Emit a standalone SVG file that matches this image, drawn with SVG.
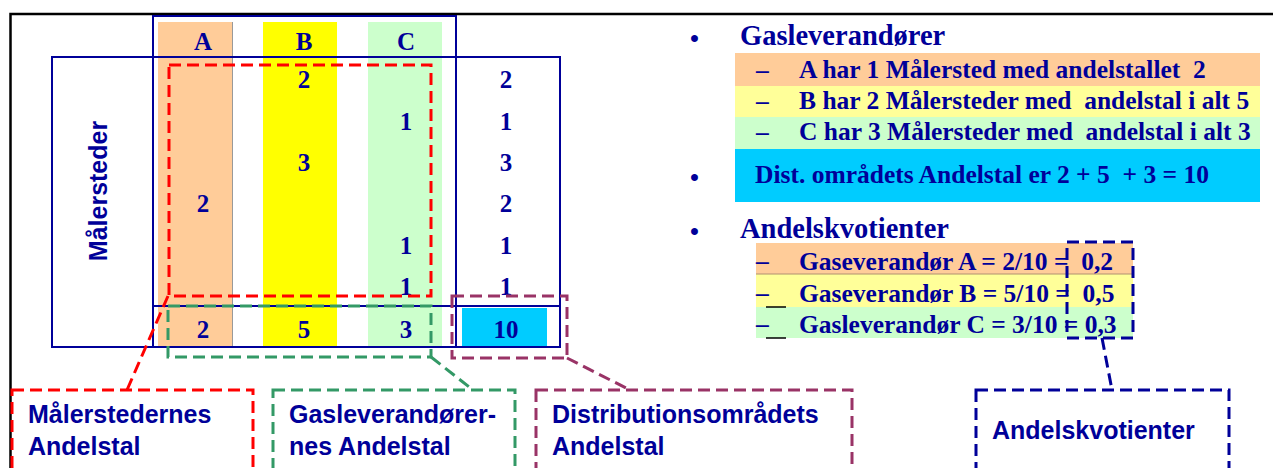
<svg xmlns="http://www.w3.org/2000/svg" width="1273" height="468" viewBox="0 0 1273 468">
<style>
.tb{font-family:"Liberation Serif","Times New Roman",serif;font-weight:bold;fill:#000099;font-size:25px;text-anchor:middle}
.tr{font-family:"Liberation Serif","Times New Roman",serif;font-weight:bold;fill:#000099;font-size:25.5px;white-space:pre}
.th{font-family:"Liberation Serif","Times New Roman",serif;font-weight:bold;fill:#000099;font-size:28.5px}
.ta{font-family:"Liberation Sans",Arial,sans-serif;font-weight:bold;fill:#000099;font-size:25px}
.nv{fill:none;stroke:#000099;stroke-width:2}
.d{fill:none;stroke-width:3;stroke-dasharray:12 6}
.red{stroke:#FF0000}.grn{stroke:#339966}.pur{stroke:#993366}.blu{stroke:#000099}
</style>
<rect width="1273" height="468" fill="#fff"/>
<g id="frame"><path d="M10.5 468V14H1273" fill="none" stroke="#000" stroke-width="2.5"/></g>

<g id="table">
<rect x="158" y="22" width="74" height="325" fill="#FFCC99"/>
<line x1="232.5" y1="22" x2="232.5" y2="347" stroke="#999" stroke-width="1"/>
<rect x="263" y="22" width="74" height="325" fill="#FFFF00"/>
<rect x="368" y="22" width="74" height="325" fill="#CCFFCC"/>
<rect x="462" y="308" width="85" height="38" fill="#00CCFF"/>
<rect class="nv" x="153" y="16" width="303" height="331"/>
<rect class="nv" x="52" y="57" width="508" height="290"/>
<line class="nv" x1="153" y1="306" x2="560" y2="306"/>
<text class="tb" x="203" y="50">A</text>
<text class="tb" x="304" y="50">B</text>
<text class="tb" x="406" y="50">C</text>
<text class="tb" x="304" y="88">2</text>
<text class="tb" x="406" y="130">1</text>
<text class="tb" x="304" y="171">3</text>
<text class="tb" x="203" y="212">2</text>
<text class="tb" x="406" y="254">1</text>
<text class="tb" x="406" y="295">1</text>
<text class="tb" x="506" y="88">2</text>
<text class="tb" x="506" y="130">1</text>
<text class="tb" x="506" y="171">3</text>
<text class="tb" x="506" y="212">2</text>
<text class="tb" x="506" y="254">1</text>
<text class="tb" x="506" y="295">1</text>
<text class="tb" x="203" y="338">2</text>
<text class="tb" x="304" y="338">5</text>
<text class="tb" x="406" y="338">3</text>
<text class="tb" x="506" y="338">10</text>
<text class="ta" transform="translate(107 191) rotate(-90)" text-anchor="middle">Målersteder</text>
</g>

<g id="list">
<rect x="735" y="53" width="525" height="33" fill="#FFCC99"/>
<rect x="735" y="86" width="525" height="31" fill="#FFFF99"/>
<rect x="735" y="117" width="525" height="32" fill="#CCFFCC"/>
<rect x="735" y="149" width="525" height="53" fill="#00CCFF"/>
<text class="tr" x="690" y="47">•</text>
<text class="th" x="740" y="45">Gasleverandører</text>
<text class="tr" x="756" y="78">–</text>
<text class="tr" x="799" y="78">A har 1 Målersted med andelstallet  2</text>
<text class="tr" x="756" y="109">–</text>
<text class="tr" x="799" y="109">B har 2 Målersteder med  andelstal i alt 5</text>
<text class="tr" x="756" y="140">–</text>
<text class="tr" x="799" y="140">C har 3 Målersteder med  andelstal i alt 3</text>
<text class="tr" x="690" y="186">•</text>
<text class="tr" x="755" y="183">Dist. områdets Andelstal er 2 + 5  + 3 = 10</text>
<text class="tr" x="690" y="240">•</text>
<text class="th" x="740" y="238">Andelskvotienter</text>
<rect x="756" y="243" width="377" height="31" fill="#FFCC99"/>
<rect x="756" y="274" width="377" height="33" fill="#FFFF99"/>
<rect x="756" y="307" width="377" height="31" fill="#CCFFCC"/>
<line x1="756" y1="274" x2="1133" y2="274" stroke="#B09070" stroke-width="1"/>
<line x1="766" y1="307" x2="786" y2="307" stroke="#000" stroke-width="1.5"/>
<line x1="766" y1="338" x2="786" y2="338" stroke="#000" stroke-width="1.5"/>
<text class="tr" x="756" y="269">–</text>
<text class="tr" x="799" y="270">Gaseverandør A = 2/10 =  0,2</text>
<text class="tr" x="756" y="301">–</text>
<text class="tr" x="799" y="302">Gaseverandør B = 5/10 =  0,5</text>
<text class="tr" x="756" y="332">–</text>
<text class="tr" x="799" y="333">Gasleverandør C = 3/10 = 0,3</text>
</g>

<g id="highlights">
<rect class="d red" x="169" y="65" width="262" height="231"/>
<rect class="d grn" x="168" y="306" width="263" height="51"/>
<rect class="d pur" x="452" y="296" width="115" height="62"/>
<rect class="d blu" x="1067" y="242" width="66" height="96" stroke-dasharray="10 6"/>
</g>

<g id="connectors">
<line class="d red" x1="168" y1="296" x2="127" y2="390"/>
<line class="d grn" x1="431" y1="357" x2="473" y2="390"/>
<line class="d pur" x1="567" y1="358" x2="630" y2="390"/>
<line class="d blu" x1="1102" y1="338" x2="1112" y2="390" stroke-dasharray="10 6"/>
</g>

<g id="box-malersteder">
<rect class="d red" x="12" y="390" width="241" height="95"/>
<text class="ta" x="28" y="423">Målerstedernes</text>
<text class="ta" x="28" y="455">Andelstal</text>
</g>
<g id="box-gaslev">
<rect class="d grn" x="273" y="390" width="242" height="95"/>
<text class="ta" x="289" y="423">Gasleverandører-</text>
<text class="ta" x="289" y="455">nes Andelstal</text>
</g>
<g id="box-dist">
<rect class="d pur" x="536" y="390" width="316" height="95"/>
<text class="ta" x="552" y="423">Distributionsområdets</text>
<text class="ta" x="552" y="455">Andelstal</text>
</g>
<g id="box-kvot">
<rect class="d blu" x="976" y="390" width="253" height="95" stroke-dasharray="10 6"/>
<text class="ta" x="992" y="439">Andelskvotienter</text>
</g>
</svg>
